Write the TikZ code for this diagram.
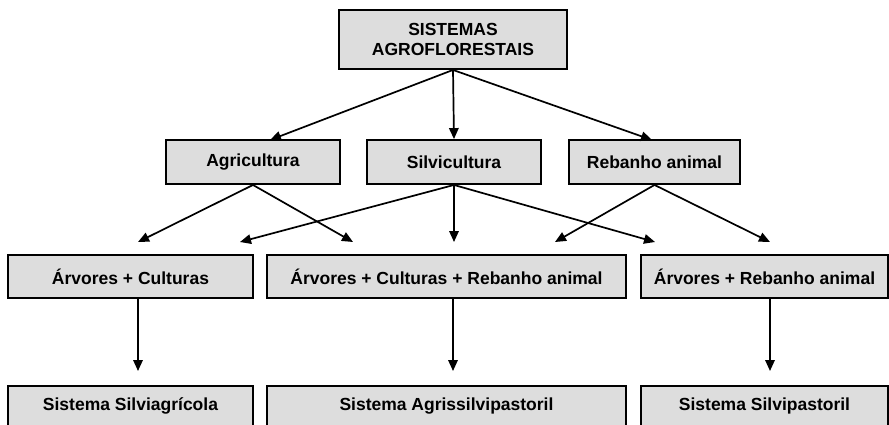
\documentclass[tikz,border=0pt]{standalone}
\usepackage{fontspec}
\setmainfont{Liberation Sans}
\usetikzlibrary{arrows.meta}
\definecolor{boxgray}{RGB}{221,221,221}
\tikzset{
  box/.style={draw=black, line width=1.9pt, fill=boxgray, inner sep=0pt, align=center,
    font=\fontsize{17.5}{20.5}\selectfont\bfseries},
  arr/.style={line width=1.7pt, -{Triangle[length=11pt,width=9.5pt]}},
}
\begin{document}
\begin{tikzpicture}[x=1pt,y=-1pt]
\useasboundingbox (0,0) rectangle (889,424);
\clip (0,0) rectangle (889,424);
% nodes
\node[box, minimum width=228pt, minimum height=59pt] (top) at (453,39.5) {SISTEMAS\\AGROFLORESTAIS};
\node[box, minimum width=174pt, minimum height=44pt] (agr) at (253,162) {Agricultura};
\node[box, minimum width=174pt, minimum height=44pt] (sil) at (454,162) {Silvicultura};
\node[box, minimum width=171pt, minimum height=44pt] (reb) at (654.5,162) {Rebanho animal};
\node[box, minimum width=245pt, minimum height=43pt] (ac) at (130.5,276.5) {Árvores + Culturas};
\node[box, minimum width=359pt, minimum height=43pt] (acr) at (446.5,276.5) {Árvores + Culturas + Rebanho animal};
\node[box, minimum width=247pt, minimum height=43pt] (ar) at (764.5,276.5) {Árvores + Rebanho animal};
\node[box, minimum width=245pt, minimum height=40pt] (s1) at (130.5,406) {Sistema Silviagrícola};
\node[box, minimum width=359pt, minimum height=40pt] (s2) at (446.5,406) {Sistema Agrissilvipastoril};
\node[box, minimum width=247pt, minimum height=40pt] (s3) at (764.5,406) {Sistema Silvipastoril};
% arrow end points
\coordinate (eagr) at (270,140);
\coordinate (ereb) at (652,140);
\coordinate (m1) at (138,242);
\coordinate (m2) at (240,242);
\coordinate (m3) at (353,242);
\coordinate (m4) at (454,242);
\coordinate (m5) at (555,242);
\coordinate (m6) at (655,242);
\coordinate (m7) at (770,242);
\coordinate (d1) at (138,371);
\coordinate (d2) at (453,371);
\coordinate (d3) at (770,371);
% connectors
\draw[arr] (top.south) -- (eagr);
\draw[arr] (top.south) -- (sil.north);
\draw[arr] (top.south) -- (ereb);
\draw[arr] (agr.south) -- (m1);
\draw[arr] (agr.south) -- (m3);
\draw[arr] (sil.south) -- (m2);
\draw[arr] (sil.south) -- (m4);
\draw[arr] (sil.south) -- (m6);
\draw[arr] (reb.south) -- (m5);
\draw[arr] (reb.south) -- (m7);
\draw[arr] (ac.south -| d1) -- (d1);
\draw[arr] (acr.south -| d2) -- (d2);
\draw[arr] (ar.south -| d3) -- (d3);
\end{tikzpicture}
\end{document}
